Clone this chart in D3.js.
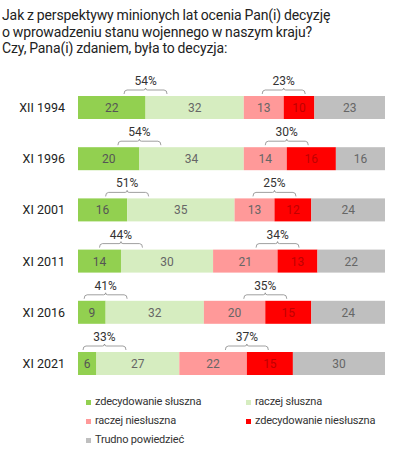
<!DOCTYPE html>
<html><head><meta charset="utf-8">
<script src="https://cdn.jsdelivr.net/npm/d3@7"></script>
<style>
html,body{margin:0;padding:0;background:#fff;}
svg{display:block;font-family:Roboto, "Noto Sans", sans-serif;}
</style></head>
<body>
<svg id="c" width="397" height="457"></svg>
<script>
const titleLines = ["Jak z perspektywy minionych lat ocenia Pan(i) decyzję","o wprowadzeniu stanu wojennego w naszym kraju?","Czy, Pana(i) zdaniem, była to decyzja:"];
const categories = ["XII 1994","XI 1996","XI 2001","XI 2011","XI 2016","XI 2021"];
const seriesNames = ["zdecydowanie słuszna","raczej słuszna","raczej niesłuszna","zdecydowanie niesłuszna","Trudno powiedzieć"];
const colors = ["#92d050","#d6edc0","#ff9999","#ff0000","#bfbfbf"];
const labelColors = ["#555","#666","#666","#c00000","#666"];
const zdecSluszna   = [22,20,16,14,9,6];
const raczejSluszna = [32,34,35,30,32,27];
const raczejNies    = [13,14,13,21,20,22];
const zdecNies      = [10,16,12,13,15,15];
const trudno        = [23,16,24,22,24,30];
const totalSluszna  = [54,54,51,44,41,33];
const totalNies     = [23,30,25,34,35,37];
const series = [zdecSluszna,raczejSluszna,raczejNies,zdecNies,trudno];

const svg = d3.select("#c");
// title
const t = svg.append("text").attr("fill","#222").attr("font-size",14).attr("letter-spacing","-0.1").attr("word-spacing","-0.5");
titleLines.forEach((l,i)=>t.append("tspan").attr("x",2).attr("y",20+i*16.5).text(l));

const x = d3.scaleLinear().domain([0,100]).range([78,385]);
const y = d3.scalePoint().domain(categories).range([107.5,363.5]);
const bh = 23;

categories.forEach((c,ci)=>{
  const cy = y(c);
  let acc = 0;
  series.forEach((s,si)=>{
    const v = s[ci];
    svg.append("rect").attr("x",x(acc)).attr("y",cy-bh/2).attr("width",x(acc+v)-x(acc)).attr("height",bh).attr("fill",colors[si]);
    svg.append("text").attr("x",(x(acc)+x(acc+v))/2).attr("y",cy+4.5).attr("text-anchor","middle")
      .attr("font-size",12).attr("fill",labelColors[si]).text(v);
    acc += v;
  });
  svg.append("text").attr("x",65).attr("y",cy+4.5).attr("text-anchor","end").attr("font-size",12.5).attr("fill","#222").text(c);
  // brackets
  const br = [[zdecSluszna[ci], totalSluszna[ci]], [zdecSluszna[ci]+raczejSluszna[ci]+raczejNies[ci], totalNies[ci]]];
  br.forEach(([b,tot])=>{
    let cx = x(b);
    const hw = 21.5;
    cx = Math.max(cx, x(0)+5+hw);
    const top = cy-bh/2-6, bot = cy-bh/2-2;
    const p = d3.path();
    p.moveTo(cx-hw, bot);
    p.quadraticCurveTo(cx-hw, top, cx-hw+3, top);
    p.lineTo(cx-2, top);
    p.quadraticCurveTo(cx, top, cx, top-2);
    p.quadraticCurveTo(cx, top, cx+2, top);
    p.lineTo(cx+hw-3, top);
    p.quadraticCurveTo(cx+hw, top, cx+hw, bot);
    svg.append("path").attr("d",p.toString()).attr("fill","none").attr("stroke","#888").attr("stroke-width",0.8);
    svg.append("text").attr("x",cx).attr("y",top-5).attr("text-anchor","middle").attr("font-size",12).attr("fill","#333").text(tot+"%");
  });
});

// legend
const legPos = [[86,405],[246,405],[86,424],[246,424],[86,443]];
seriesNames.forEach((n,i)=>{
  const [lx,ly] = legPos[i];
  svg.append("rect").attr("x",lx).attr("y",ly-5).attr("width",5).attr("height",5).attr("fill",colors[i]);
  svg.append("text").attr("x",lx+9).attr("y",ly).attr("font-size",11).attr("fill","#333").attr("letter-spacing","-0.2").text(n);
});
</script>
</body></html>
